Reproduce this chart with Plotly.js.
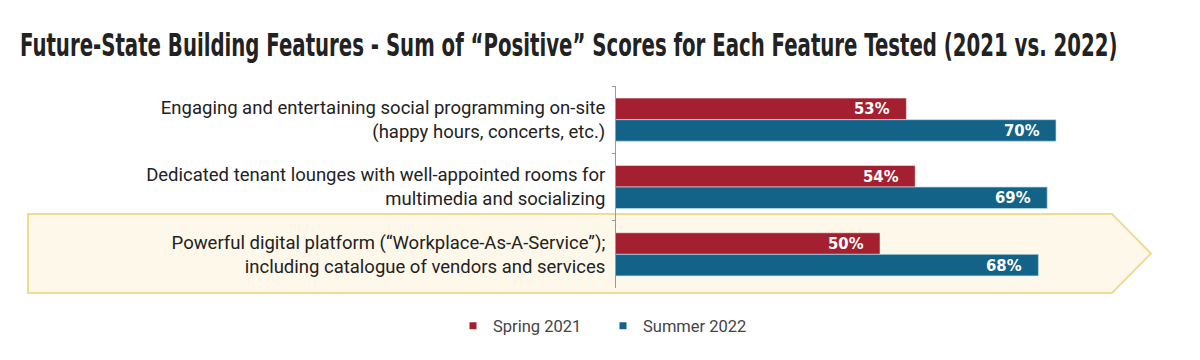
<!DOCTYPE html>
<html>
<head>
<meta charset="utf-8">
<script src="https://cdn.plot.ly/plotly-3.0.1.min.js"></script>
<style>html,body{margin:0;padding:0;background:#fff;}#chart{width:1200px;height:360px;}</style>
</head>
<body>
<div id="chart"></div>
<script>
var categories = [
  "Engaging and entertaining social programming on-site<br>(happy hours, concerts, etc.)",
  "Dedicated tenant lounges with well-appointed rooms for<br>multimedia and socializing",
  "Powerful digital platform (“Workplace-As-A-Service”);<br>including catalogue of vendors and services"
];
var seriesNames = ["Spring 2021", "Summer 2022"];
var spring2021 = [53, 54, 50];
var summer2022 = [70, 69, 68];
var titleText = "Future-State Building Features - Sum of “Positive” Scores for Each Feature Tested (2021 vs. 2022)";

var RED = "#a41f2f", BLUE = "#136287";
var COND = "DejaVu Sans Condensed, DejaVu Sans, sans-serif";

var traces = [
  {type:"bar", orientation:"h", name:seriesNames[0], y:categories, x:spring2021,
   marker:{color:RED, line:{color:"rgba(255,255,255,0.5)", width:1}}, showlegend:false, hoverinfo:"x"},
  {type:"bar", orientation:"h", name:seriesNames[1], y:categories, x:summer2022,
   marker:{color:BLUE, line:{color:"rgba(190,220,235,0.7)", width:1}}, showlegend:false, hoverinfo:"x"},
  {type:"scatter", mode:"markers", name:seriesNames[0], x:[null], y:[null],
   marker:{symbol:"square", size:7, color:RED}, showlegend:true},
  {type:"scatter", mode:"markers", name:seriesNames[1], x:[null], y:[null],
   marker:{symbol:"square", size:7, color:BLUE}, showlegend:true}
];

var annotations = [];
[spring2021, summer2022].forEach(function(vals, si){
  vals.forEach(function(v, i){
    annotations.push({x:v, y:categories[i], xref:"x", yref:"y", text:v+"%",
      showarrow:false, xanchor:"right", xshift:-14, yshift:(si===0?1:-1)*10.75,
      font:{family:COND, size:16.5, color:"#ffffff", weight:"bold", stretch:"condensed"}});
  });
});

var layout = {
  width:1200, height:360,
  margin:{l:616, r:56, t:86, b:72},
  paper_bgcolor:"#ffffff", plot_bgcolor:"rgba(0,0,0,0)",
  title:{text:titleText, x:20/1200, xanchor:"left", xref:"container", y:1-45/360, yref:"container", yanchor:"middle",
    font:{family:COND, size:32, color:"#222222", weight:"bold", stretch:"condensed"}},
  barmode:"group", bargap:0.36, bargroupgap:0,
  xaxis:{range:[20,80], visible:false, fixedrange:true},
  yaxis:{autorange:"reversed", showline:true, linecolor:"#9a9a9a", linewidth:1,
    ticks:"outside", ticklen:3, tickcolor:"#9a9a9a", tickson:"boundaries",
    ticklabelstandoff:6,
    tickfont:{family:"Roboto, Arial, sans-serif", size:18.5, color:"#222222"}, showgrid:false},
  legend:{orientation:"h", x:603/1200, xref:"container", xanchor:"center", y:1-326/360, yref:"container", yanchor:"middle",
    font:{family:"Roboto, Arial, sans-serif", size:16.5, color:"#444444"}, itemwidth:30,
    entrywidth:105, entrywidthmode:"pixels"},
  annotations:annotations,
  shapes:[{type:"path", xref:"paper", yref:"paper", layer:"below",
    path:"M-1.1136,0.3663 L0.9394,0.3663 L1.0133,0.1708 L0.9394,-0.0248 L-1.1136,-0.0248 Z",
    fillcolor:"#fdf8e9", line:{color:"#f1db90", width:2}}]
};

Plotly.newPlot("chart", traces, layout, {displayModeBar:false, staticPlot:true}).then(function(gd){
  // squeeze the title horizontally so it spans the same width as the reference's condensed face
  var t = gd.querySelector(".gtitle");
  if (t && t.getComputedTextLength) {
    var w = t.getComputedTextLength();
    var target = 1098;
    if (w > 0) {
      var k = target / w;
      var x0 = parseFloat(t.getAttribute("x")) || 20;
      t.setAttribute("transform", "matrix(" + k + ",0,0,1," + ((1 - k) * x0) + ",0)");
    }
  }
});
</script>
</body>
</html>
